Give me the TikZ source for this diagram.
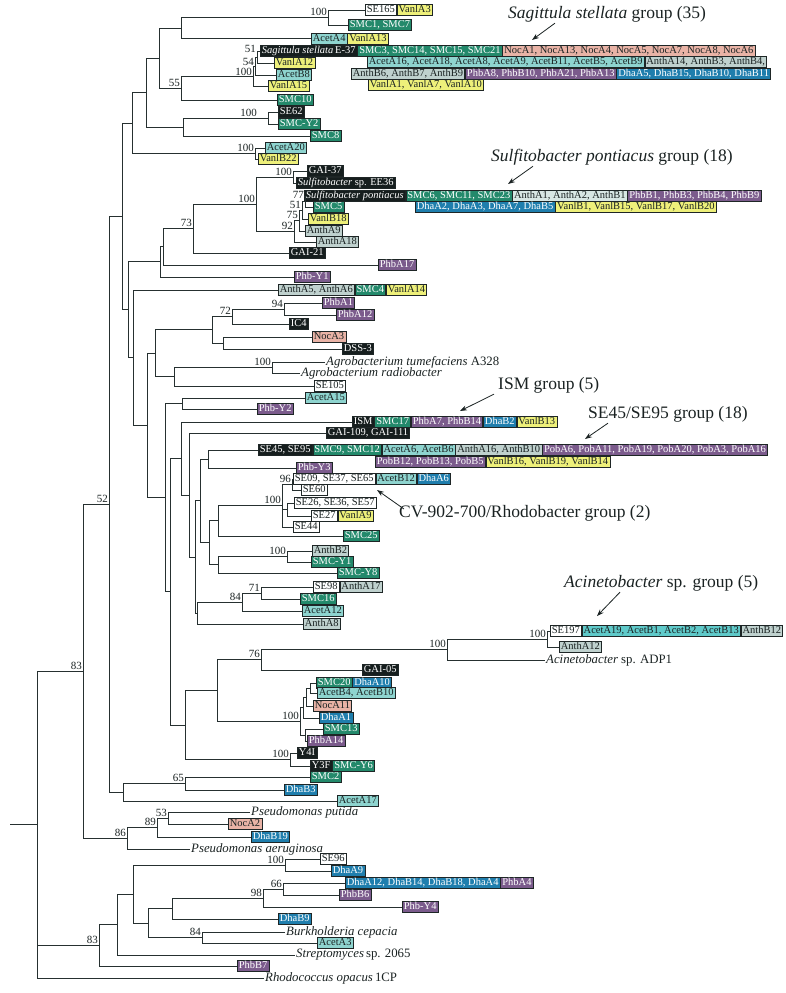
\documentclass[tikz,border=0pt]{standalone}
\usepackage{fontspec}
\setmainfont{Liberation Serif}
\usetikzlibrary{positioning,arrows.meta}
\definecolor{cline}{HTML}{263030}
\definecolor{cedge}{HTML}{1E2626}
\definecolor{ctext}{HTML}{1A2222}
\definecolor{csmc}{HTML}{23896B}
\definecolor{cacet}{HTML}{8ED4CF}
\definecolor{cacetb}{HTML}{5FCACA}
\definecolor{cvanl}{HTML}{EEF07A}
\definecolor{cnoc}{HTML}{E9B3A6}
\definecolor{canth}{HTML}{BFD1CE}
\definecolor{canthl}{HTML}{D8E7E4}
\definecolor{cphb}{HTML}{7B5B8C}
\definecolor{cdha}{HTML}{1F7EAD}
\definecolor{cblk}{HTML}{161E1E}
\tikzset{
  br/.style={draw=cline,line width=1pt},
  lab/.style={draw=cedge,line width=0.6pt,anchor=west,inner xsep=1.6pt,inner ysep=1pt,
    text height=7.2pt,text depth=2.2pt,font=\fontsize{10.5}{12}\selectfont},
  smc/.style={lab,fill=csmc,text=white},
  acet/.style={lab,fill=cacet,text=ctext},
  vanl/.style={lab,fill=cvanl,text=ctext},
  noc/.style={lab,fill=cnoc,text=ctext},
  anth/.style={lab,fill=canth,text=ctext},
  phb/.style={lab,fill=cphb,text=white},
  dha/.style={lab,fill=cdha,text=white},
  blk/.style={lab,fill=cblk,text=white},
  sew/.style={lab,fill=white,text=ctext},
  sp/.style={anchor=west,inner sep=1pt,text=ctext,font=\fontsize{12.8}{14}\selectfont},
  bs/.style={anchor=base east,inner sep=0pt,xshift=-1pt,yshift=2pt,text=ctext,
    font=\fontsize{11}{12}\selectfont},
  grp/.style={anchor=west,inner sep=1pt,text=ctext,font=\fontsize{17.5}{20}\selectfont},
  arr/.style={draw=ctext,line width=0.8pt,-{Stealth[length=7pt,width=5pt]}},
}
\begin{document}
\begin{tikzpicture}[x=1pt,y=-1pt]
\useasboundingbox (0,0) rectangle (785,993);

% inner nodes of the tree
\coordinate (r0) at (10,824.65);
\coordinate (root) at (37,824.65);
\coordinate (n83a) at (83,671.3);
\coordinate (n52) at (109,504.3);
\coordinate (n122) at (122,216.4);
\coordinate (n132) at (132,123);
\coordinate (n146) at (146,92.5);
\coordinate (n159) at (159,58);
\coordinate (n181a) at (181,28);
\coordinate (n328) at (328,17.5);
\coordinate (n55) at (181,88);
\coordinate (nSag) at (253,76);
\coordinate (n54) at (255,66);
\coordinate (n51s) at (257,57);
\coordinate (n183) at (183,127);
\coordinate (n268) at (268,118);
\coordinate (n255) at (255,153.5);
\coordinate (n128) at (128,309.8);
\coordinate (nB) at (160,261.9);
\coordinate (nA) at (163,246.8);
\coordinate (n73) at (193,228.6);
\coordinate (n256) at (256,204.2);
\coordinate (n293) at (293,177);
\coordinate (n92) at (294,231.3);
\coordinate (n75) at (299,220.6);
\coordinate (n51b) at (302,210.25);
\coordinate (n77) at (305,201.5);
\coordinate (n133) at (133,357.7);
\coordinate (n147) at (147,425.4);
\coordinate (n155) at (155,353.25);
\coordinate (n212) at (212,329.75);
\coordinate (n72) at (232,316.5);
\coordinate (n94) at (284,309);
\coordinate (n223) at (223,343);
\coordinate (n174) at (174,376.75);
\coordinate (nAgro) at (272,367.5);
\coordinate (n165) at (165,497.6);
\coordinate (n182) at (182,403.5);
\coordinate (n170) at (170,591.75);
\coordinate (n181) at (181,458.5);
\coordinate (n189) at (189,495);
\coordinate (n195) at (195,557);
\coordinate (n200) at (200,500.9);
\coordinate (n208) at (208,459);
\coordinate (n209) at (209,542.8);
\coordinate (n218b) at (218,520.9);
\coordinate (ncv) at (282,505.75);
\coordinate (n96) at (292,484.5);
\coordinate (n287) at (287,509.5);
\coordinate (n218) at (218,564.75);
\coordinate (n287b) at (287,556.5);
\coordinate (n196) at (197,613);
\coordinate (n84) at (242,602);
\coordinate (n71) at (261,593);
\coordinate (n185) at (185,725);
\coordinate (n217) at (217,690.5);
\coordinate (n76) at (261,659.75);
\coordinate (n447) at (447,649.5);
\coordinate (n547) at (547,639);
\coordinate (n300) at (300,721.25);
\coordinate (n303) at (303,707.5);
\coordinate (n306) at (306,697);
\coordinate (n310) at (310,688);
\coordinate (n304) at (305,735);
\coordinate (nY) at (290,759.5);
\coordinate (n123) at (123,792.25);
\coordinate (n65) at (185,783.5);
\coordinate (n86) at (127,838.25);
\coordinate (n89) at (157,827.5);
\coordinate (n53) at (168,818);
\coordinate (n83b) at (99,945.25);
\coordinate (n117) at (117,924.5);
\coordinate (n133b) at (133,894);
\coordinate (n285) at (285,865);
\coordinate (n148) at (148,923);
\coordinate (n172) at (172,908.5);
\coordinate (n98) at (263,898);
\coordinate (n66) at (283,889);
\coordinate (n84b) at (202,937.5);

% strains and isolates
\node[sew] (se165) at (365,10) {SE165};
\node[vanl,right=0pt of se165] (vanlA3) {VanlA3};
\node[smc] (smc1) at (348,25) {SMC1, SMC7};
\node[acet] (acetA4) at (311,38.5) {AcetA4};
\node[vanl,right=0pt of acetA4] (vanlA13) {VanlA13};
\node[blk] (sag) at (260,51) {\textit{Sagittula stellata}\,E-37};
\node[smc,right=0pt of sag] (sagb) {SMC3, SMC14, SMC15, SMC21};
\node[noc,right=0pt of sagb] (sagc) {NocA1, NocA13, NocA4, NocA5, NocA7, NocA8, NocA6};
\node[vanl] (vanlA12) at (274,63) {VanlA12};
\node[acet] (sagd) at (367,62) {AcetA16, AcetA18, AcetA8, AcetA9, AcetB11, AcetB5, AcetB9};
\node[anth,right=0pt of sagd] (sage) {AnthA14, AnthB3, AnthB4,};
\node[acet] (acetB8) at (276,75) {AcetB8};
\node[anth] (sagf) at (351,74) {AnthB6, AnthB7, AnthB9};
\node[phb,right=0pt of sagf] (sagg) {PhbA8, PhbB10, PhbA21, PhbA13};
\node[dha,right=0pt of sagg] (sagh) {DhaA5, DhaB15, DhaB10, DhaB11};
\node[vanl] (vanlA15) at (268,86) {VanlA15};
\node[vanl] (sagi) at (368,85) {VanlA1, VanlA7, VanlA10};
\node[smc] (smc10) at (277,100) {SMC10};
\node[blk] (se62) at (278,112) {SE62};
\node[smc] (smcy2) at (278,124) {SMC-Y2};
\node[smc] (smc8) at (310,136) {SMC8};
\node[acet] (acetA20) at (265,148) {AcetA20};
\node[vanl] (vanlB22) at (258,159) {VanlB22};
\node[blk] (gai37) at (307,171) {GAI-37};
\node[blk] (ee36) at (296,183) {\textit{Sulfitobacter} sp. EE36};
\node[blk] (spon) at (304,196) {\textit{Sulfitobacter pontiacus}};
\node[smc,right=0pt of spon] (sponb) {SMC6, SMC11, SMC23};
\node[anth,fill=canthl,right=0pt of sponb] (sponc) {AnthA1, AnthA2, AnthB1};
\node[phb,right=0pt of sponc] (spond) {PhbB1, PhbB3, PhbB4, PhbB9};
\node[dha] (spone) at (415,207) {DhaA2, DhaA3, DhaA7, DhaB5};
\node[vanl,right=0pt of spone] (sponf) {VanlB1, VanlB15, VanlB17, VanlB20};
\node[smc] (smc5) at (313,207) {SMC5};
\node[vanl] (vanlB18) at (308,219) {VanlB18};
\node[anth] (anthA9) at (305,231) {AnthA9};
\node[anth] (anthA18) at (316,242) {AnthA18};
\node[blk] (gai21) at (289,253) {GAI-21};
\node[phb] (phbA17) at (378,265) {PhbA17};
\node[phb] (phby1) at (294,277) {Phb-Y1};
\node[anth] (anthA5) at (278,290) {AnthA5, AnthA6};
\node[smc,right=0pt of anthA5] (smc4) {SMC4};
\node[vanl,right=0pt of smc4] (vanlA14) {VanlA14};
\node[phb] (phbA1) at (322,303) {PhbA1};
\node[phb] (phbA12) at (336,315) {PhbA12};
\node[blk] (ic4) at (289,324) {IC4};
\node[noc] (nocA3) at (312,337) {NocA3};
\node[blk] (dss3) at (342,349) {DSS-3};
\node[sp] (agtum) at (325,362) {\textit{Agrobacterium tumefaciens} A328};
\node[sp] (agrad) at (300,373) {\textit{Agrobacterium radiobacter}};
\node[sew] (se105) at (314,386) {SE105};
\node[acet] (acetA15) at (305,398) {AcetA15};
\node[phb] (phby2) at (257,409) {Phb-Y2};
\node[blk] (ism) at (352,422) {ISM};
\node[smc,right=0pt of ism] (ismb) {SMC17};
\node[phb,right=0pt of ismb] (ismc) {PhbA7, PhbB14};
\node[dha,right=0pt of ismc] (ismd) {DhaB2};
\node[vanl,right=0pt of ismd] (isme) {VanlB13};
\node[blk] (gai109) at (326,433) {GAI-109, GAI-111};
\node[blk] (se45) at (258,450) {SE45, SE95};
\node[smc,right=0pt of se45] (se45b) {SMC9, SMC12};
\node[acet,right=0pt of se45b] (se45c) {AcetA6, AcetB6};
\node[anth,right=0pt of se45c] (se45d) {AnthA16, AnthB10};
\node[phb,right=0pt of se45d] (se45e) {PobA6, PobA11, PobA19, PobA20, PobA3, PobA16};
\node[phb] (se45f) at (375,462) {PobB12, PobB13, PobB5};
\node[vanl,right=0pt of se45f] (se45g) {VanlB16, VanlB19, VanlB14};
\node[phb] (phby3) at (296,468) {Phb-Y3};
\node[sew] (se09) at (293,479) {SE09, SE37, SE65};
\node[acet,right=0pt of se09] (acetB12) {AcetB12};
\node[dha,right=0pt of acetB12] (dhaA6) {DhaA6};
\node[sew] (se60) at (301,490) {SE60};
\node[sew] (se26) at (294,503) {SE26, SE36, SE57};
\node[sew] (se27) at (311,516) {SE27};
\node[vanl,right=0pt of se27] (vanlA9) {VanlA9};
\node[sew] (se44) at (293,527) {SE44};
\node[smc] (smc25) at (343,536) {SMC25};
\node[anth] (anthB2) at (312,551) {AnthB2};
\node[smc] (smcy1) at (311,562) {SMC-Y1};
\node[smc] (smcy8) at (337,573) {SMC-Y8};
\node[sew] (se98) at (313,587) {SE98};
\node[anth,right=0pt of se98] (anthA17) {AnthA17};
\node[smc] (smc16) at (300,599) {SMC16};
\node[acet] (acetA12) at (302,611) {AcetA12};
\node[anth] (anthA8) at (303,624) {AnthA8};
\node[sew] (se197) at (550,631) {SE197};
\node[acet,fill=cacetb,right=0pt of se197] (se197b) {AcetA19, AcetB1, AcetB2, AcetB13};
\node[anth,right=0pt of se197b] (anthB12) {AnthB12};
\node[anth] (anthA12) at (559,647) {AnthA12};
\node[sp] (acin) at (545,660) {\textit{Acinetobacter} sp. ADP1};
\node[blk] (gai05) at (362,670) {GAI-05};
\node[smc] (smc20) at (316,683) {SMC20};
\node[dha,right=0pt of smc20] (dhaA10) {DhaA10};
\node[acet] (acetB4) at (317,693) {AcetB4, AcetB10};
\node[noc] (nocA11) at (313,706) {NocA11};
\node[dha] (dhaA1) at (319,718) {DhaA1};
\node[smc] (smc13) at (323,729) {SMC13};
\node[phb] (phbA14) at (307,741) {PhbA14};
\node[blk] (y4i) at (297,753) {Y4I};
\node[blk] (y3f) at (310,766) {Y3F};
\node[smc,right=0pt of y3f] (smcy6) {SMC-Y6};
\node[smc] (smc2) at (310,777) {SMC2};
\node[dha] (dhaB3) at (284,790) {DhaB3};
\node[acet] (acetA17) at (337,801) {AcetA17};
\node[sp] (pput) at (250,812) {\textit{Pseudomonas putida}};
\node[noc] (nocA2) at (228,824) {NocA2};
\node[dha] (dhaB19) at (251,837) {DhaB19};
\node[sp] (paer) at (190,849) {\textit{Pseudomonas aeruginosa}};
\node[sew] (se96) at (320,859) {SE96};
\node[dha] (dhaA9) at (331,871) {DhaA9};
\node[dha] (dhaA12) at (345,883) {DhaA12, DhaB14, DhaB18, DhaA4};
\node[phb,right=0pt of dhaA12] (phbA4) {PhbA4};
\node[phb] (phbB6) at (339,895) {PhbB6};
\node[phb] (phby4) at (402,907) {Phb-Y4};
\node[dha] (dhaB9) at (278,919) {DhaB9};
\node[sp] (burk) at (285,932) {\textit{Burkholderia cepacia}};
\node[acet] (acetA3) at (317,943) {AcetA3};
\node[sp] (strep) at (295,955) {\textit{Streptomyces}\,sp. 2065};
\node[phb] (phbB7) at (237,966) {PhbB7};
\node[sp] (rhodo) at (264,978) {\textit{Rhodococcus opacus}\,1CP};

% branches
\draw[br] (r0) -- (root);
\draw[br] (root) |- (n83a) (root) |- (n83b) (root) |- (rhodo.west);
\draw[br] (n83a) |- (n52) (n83a) |- (n86);
\draw[br] (n52) |- (n122) (n52) |- (n123);
\draw[br] (n122) |- (n132) (n122) |- (n128);
\draw[br] (n132) |- (n146) (n132) |- (n255);
\draw[br] (n146) |- (n159) (n146) |- (n183);
\draw[br] (n159) |- (n181a) (n159) |- (n55);
\draw[br] (n181a) |- (n328) (n181a) |- (acetA4.west);
\draw[br] (n328) |- (se165.west) (n328) |- (smc1.west);
\draw[br] (n55) |- (nSag) (n55) |- (smc10.west);
\draw[br] (nSag) |- (n54) (nSag) |- (vanlA15.west);
\draw[br] (n54) |- (n51s) (n54) |- (acetB8.west);
\draw[br] (n51s) |- (sag.west) (n51s) |- (vanlA12.west);
\draw[br] (n183) |- (n268) (n183) |- (smc8.west);
\draw[br] (n268) |- (se62.west) (n268) |- (smcy2.west);
\draw[br] (n255) |- (acetA20.west) (n255) |- (vanlB22.west);
\draw[br] (n128) |- (nB) (n128) |- (n133);
\draw[br] (nB) |- (nA) (nB) |- (phby1.west);
\draw[br] (nA) |- (n73) (nA) |- (phbA17.west);
\draw[br] (n73) |- (n256) (n73) |- (gai21.west);
\draw[br] (n256) |- (n293) (n256) |- (n92);
\draw[br] (n293) |- (gai37.west) (n293) |- (ee36.west);
\draw[br] (n92) |- (n75) (n92) |- (anthA18.west);
\draw[br] (n75) |- (n51b) (n75) |- (anthA9.west);
\draw[br] (n51b) |- (n77) (n51b) |- (vanlB18.west);
\draw[br] (n77) |- (spon.west) (n77) |- (smc5.west);
\draw[br] (n133) |- (anthA5.west) (n133) |- (n147);
\draw[br] (n147) |- (n155) (n147) |- (n165);
\draw[br] (n155) |- (n212) (n155) |- (n174);
\draw[br] (n212) |- (n72) (n212) |- (n223);
\draw[br] (n72) |- (n94) (n72) |- (ic4.west);
\draw[br] (n94) |- (phbA1.west) (n94) |- (phbA12.west);
\draw[br] (n223) |- (nocA3.west) (n223) |- (dss3.west);
\draw[br] (n174) |- (nAgro) (n174) |- (se105.west);
\draw[br] (nAgro) |- (agtum.west) (nAgro) |- (agrad.west);
\draw[br] (n165) |- (n182) (n165) |- (n170);
\draw[br] (n182) |- (acetA15.west) (n182) |- (phby2.west);
\draw[br] (n170) |- (n181) (n170) |- (n185);
\draw[br] (n181) |- (ism.west) (n181) |- (n189);
\draw[br] (n189) |- (gai109.west) (n189) |- (n195);
\draw[br] (n195) |- (n200) (n195) |- (n196);
\draw[br] (n200) |- (n208) (n200) |- (n209);
\draw[br] (n208) |- (se45.west) (n208) |- (phby3.west);
\draw[br] (n209) |- (n218b) (n209) |- (n218);
\draw[br] (n218b) |- (ncv) (n218b) |- (smc25.west);
\draw[br] (ncv) |- (n96) (ncv) |- (n287) (ncv) |- (se44.west);
\draw[br] (n96) |- (se09.west) (n96) |- (se60.west);
\draw[br] (n287) |- (se26.west) (n287) |- (se27.west);
\draw[br] (n218) |- (n287b) (n218) |- (smcy8.west);
\draw[br] (n287b) |- (anthB2.west) (n287b) |- (smcy1.west);
\draw[br] (n196) |- (n84) (n196) |- (anthA8.west);
\draw[br] (n84) |- (n71) (n84) |- (acetA12.west);
\draw[br] (n71) |- (se98.west) (n71) |- (smc16.west);
\draw[br] (n185) |- (n217) (n185) |- (nY);
\draw[br] (n217) |- (n76) (n217) |- (n300);
\draw[br] (n76) |- (n447) (n76) |- (gai05.west);
\draw[br] (n447) |- (n547) (n447) |- (acin.west);
\draw[br] (n547) |- (se197.west) (n547) |- (anthA12.west);
\draw[br] (n300) |- (n303) (n300) |- (n304);
\draw[br] (n303) |- (n306) (n303) |- (dhaA1.west);
\draw[br] (n306) |- (n310) (n306) |- (nocA11.west);
\draw[br] (n310) |- (smc20.west) (n310) |- (acetB4.west);
\draw[br] (n304) |- (smc13.west) (n304) |- (phbA14.west);
\draw[br] (nY) |- (y4i.west) (nY) |- (y3f.west);
\draw[br] (n123) |- (n65) (n123) |- (acetA17.west);
\draw[br] (n65) |- (smc2.west) (n65) |- (dhaB3.west);
\draw[br] (n86) |- (n89) (n86) |- (paer.west);
\draw[br] (n89) |- (n53) (n89) |- (dhaB19.west);
\draw[br] (n53) |- (pput.west) (n53) |- (nocA2.west);
\draw[br] (n83b) |- (n117) (n83b) |- (phbB7.west);
\draw[br] (n117) |- (n133b) (n117) |- (strep.west);
\draw[br] (n133b) |- (n285) (n133b) |- (n148);
\draw[br] (n285) |- (se96.west) (n285) |- (dhaA9.west);
\draw[br] (n148) |- (n172) (n148) |- (n84b);
\draw[br] (n172) |- (n98) (n172) |- (dhaB9.west);
\draw[br] (n98) |- (n66) (n98) |- (phby4.west);
\draw[br] (n66) |- (dhaA12.west) (n66) |- (phbB6.west);
\draw[br] (n84b) |- (burk.west) (n84b) |- (acetA3.west);

% bootstrap values
\node[bs] (b328) at (n328) {100};
\node[bs,yshift=3pt] (b51s) at (n51s) {51};
\node[bs,yshift=-1pt] (b54) at (n54) {54};
\node[bs,yshift=-1.5pt] (bSag) at (nSag) {100};
\node[bs] (b55) at (n55) {55};
\node[bs,xshift=-10pt] (b268) at (n268) {100};
\node[bs] (b255) at (n255) {100};
\node[bs] (b293) at (n293) {100};
\node[bs] (b256) at (n256) {100};
\node[bs,yshift=1pt] (b77) at (n77) {77};
\node[bs] (b51b) at (n51b) {51};
\node[bs] (b75) at (n75) {75};
\node[bs] (b92) at (n92) {92};
\node[bs] (b73) at (n73) {73};
\node[bs] (b94) at (n94) {94};
\node[bs] (b72) at (n72) {72};
\node[bs] (bAgro) at (nAgro) {100};
\node[bs] (b52) at (n52) {52};
\node[bs] (b96) at (n96) {96};
\node[bs] (bcv) at (ncv) {100};
\node[bs] (b287b) at (n287b) {100};
\node[bs] (b71) at (n71) {71};
\node[bs] (b84) at (n84) {84};
\node[bs] (b547) at (n547) {100};
\node[bs] (b447) at (n447) {100};
\node[bs] (b76) at (n76) {76};
\node[bs] (b300) at (n300) {100};
\node[bs] (bY) at (nY) {100};
\node[bs] (b65) at (n65) {65};
\node[bs] (b83a) at (n83a) {83};
\node[bs] (b53) at (n53) {53};
\node[bs] (b89) at (n89) {89};
\node[bs] (b86) at (n86) {86};
\node[bs] (b285) at (n285) {100};
\node[bs] (b66) at (n66) {66};
\node[bs] (b98) at (n98) {98};
\node[bs] (b84b) at (n84b) {84};
\node[bs] (b83b) at (n83b) {83};

% group labels
\node[grp] (gsag) at (507,14) {\textit{Sagittula stellata} group (35)};
\node[grp] (gsul) at (490,157) {\textit{Sulfitobacter pontiacus} group (18)};
\node[grp] (gism) at (497,385) {ISM group (5)};
\node[grp] (gse45) at (587,414) {SE45/SE95 group (18)};
\node[grp] (gcv) at (398,513) {CV-902-700/Rhodobacter group (2)};
\node[grp] (gacin) at (563,583) {\textit{Acinetobacter} sp. group (5)};
\coordinate (hsag) at (532,40);
\coordinate (hsul) at (508,184);
\coordinate (hism) at (460,411);
\coordinate (hse45) at (585,439);
\coordinate (hcv) at (377,490);
\coordinate (hacin) at (597,616);
\draw[arr] ([xshift=48pt]gsag.south west) -- (hsag);
\draw[arr] ([xshift=43pt]gsul.south west) -- (hsul);
\draw[arr] ([xshift=-3pt]gism.south west) -- (hism);
\draw[arr] ([xshift=21pt]gse45.south west) -- (hse45);
\draw[arr] ([xshift=6pt,yshift=4pt]gcv.west) -- (hcv);
\draw[arr] ([xshift=57pt]gacin.south west) -- (hacin);
\end{tikzpicture}
\end{document}
